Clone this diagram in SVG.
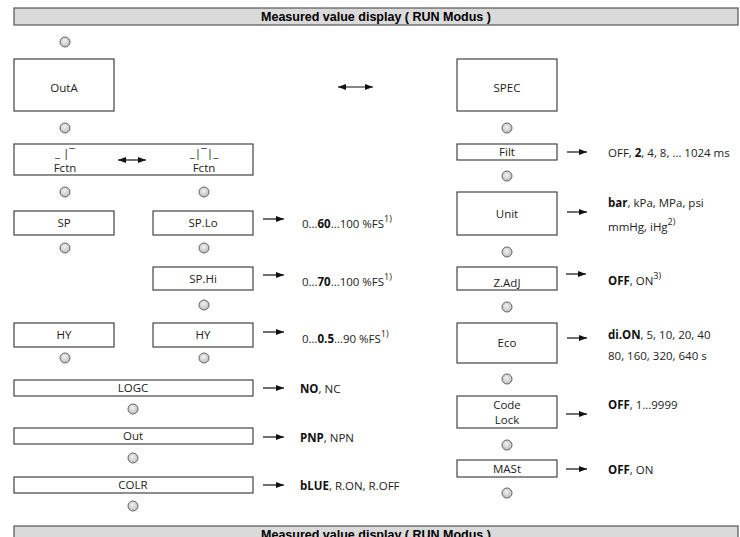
<svg xmlns="http://www.w3.org/2000/svg" width="740" height="537" viewBox="0 0 740 537">
<defs>
<marker id="ah" markerWidth="8" markerHeight="6" refX="8" refY="3" orient="auto" markerUnits="userSpaceOnUse">
<path d="M0,0 L8,3 L0,6 Z" fill="#111"/>
</marker>
<marker id="as" markerWidth="8" markerHeight="6" refX="0" refY="3" orient="auto" markerUnits="userSpaceOnUse">
<path d="M8,0 L0,3 L8,6 Z" fill="#111"/>
</marker>
<radialGradient id="dot" cx="0.45" cy="0.4" r="0.6">
<stop offset="0" stop-color="#f2f2f2"/>
<stop offset="1" stop-color="#bdbdbd"/>
</radialGradient>
</defs>
<style>
.bar{fill:#dadada;stroke:#555;stroke-width:1.2}
.title{font-family:"Liberation Sans",Arial,sans-serif;font-weight:bold;font-size:12.5px;fill:#000;text-anchor:middle}
.box{fill:#fff;stroke:#444;stroke-width:1.2}
.lbl{font-family:"Open Sans","Noto Sans",sans-serif;font-size:11.5px;fill:#222;text-anchor:middle}
.val{font-family:"Open Sans","Noto Sans",sans-serif;font-size:11.5px;fill:#222}
.b{font-weight:bold;fill:#111}
.sup{font-size:9px}
.dot{fill:url(#dot);stroke:#666;stroke-width:1}
.arr{stroke:#111;stroke-width:1.2;fill:none;marker-end:url(#ah)}
.darr{stroke:#111;stroke-width:1.2;fill:none;marker-end:url(#ah);marker-start:url(#as)}
</style>

<g id="header">
<rect class="bar" x="14" y="8" width="724" height="17"/>
<text class="title" x="376" y="21">Measured value display ( RUN Modus )</text>
</g>
<g id="footer">
<rect class="bar" x="14" y="526" width="724" height="20"/>
<text class="title" x="376" y="539">Measured value display ( RUN Modus )</text>
</g>

<g id="dots">
<circle class="dot" cx="65" cy="42" r="5"/>
<circle class="dot" cx="65" cy="128" r="5"/>
<circle class="dot" cx="507" cy="128" r="5"/>
<circle class="dot" cx="507" cy="176" r="5"/>
<circle class="dot" cx="65" cy="192" r="5"/>
<circle class="dot" cx="204" cy="192" r="5"/>
<circle class="dot" cx="65" cy="248" r="5"/>
<circle class="dot" cx="204" cy="248" r="5"/>
<circle class="dot" cx="204" cy="305" r="5"/>
<circle class="dot" cx="65" cy="358" r="5"/>
<circle class="dot" cx="204" cy="358" r="5"/>
<circle class="dot" cx="133" cy="409" r="5"/>
<circle class="dot" cx="133" cy="458" r="5"/>
<circle class="dot" cx="133" cy="506" r="5"/>
<circle class="dot" cx="507" cy="252" r="5"/>
<circle class="dot" cx="507" cy="307" r="5"/>
<circle class="dot" cx="507" cy="379" r="5"/>
<circle class="dot" cx="507" cy="445" r="5"/>
<circle class="dot" cx="507" cy="493" r="5"/>
</g>

<g id="OutA"><rect class="box" x="14" y="59" width="100" height="52"/><text class="lbl" x="64" y="92">OutA</text></g>
<g id="SPEC"><rect class="box" x="457" y="59" width="100" height="52"/><text class="lbl" x="507" y="92">SPEC</text></g>
<g id="Fctn"><rect class="box" x="14" y="144" width="239" height="31"/>
<text class="lbl" x="65" y="157">_ |¯</text><text class="lbl" x="65" y="172">Fctn</text>
<text class="lbl" x="204" y="157">_|¯|_</text><text class="lbl" x="204" y="172">Fctn</text></g>
<g id="SP"><rect class="box" x="14" y="211" width="100" height="24"/><text class="lbl" x="64" y="227">SP</text></g>
<g id="SPLo"><rect class="box" x="153" y="211" width="100" height="24"/><text class="lbl" x="203" y="227">SP.Lo</text></g>
<g id="SPHi"><rect class="box" x="153" y="267" width="100" height="23"/><text class="lbl" x="203" y="283">SP.Hi</text></g>
<g id="HY1"><rect class="box" x="14" y="323" width="100" height="24"/><text class="lbl" x="64" y="339">HY</text></g>
<g id="HY2"><rect class="box" x="153" y="323" width="100" height="24"/><text class="lbl" x="203" y="339">HY</text></g>
<g id="LOGC"><rect class="box" x="14" y="380" width="239" height="16"/><text class="lbl" x="133" y="392">LOGC</text></g>
<g id="Out"><rect class="box" x="14" y="428" width="239" height="16"/><text class="lbl" x="133" y="440">Out</text></g>
<g id="COLR"><rect class="box" x="14" y="477" width="239" height="16"/><text class="lbl" x="133" y="489">COLR</text></g>
<g id="Filt"><rect class="box" x="457" y="144" width="100" height="16"/><text class="lbl" x="507" y="156">Filt</text></g>
<g id="Unit"><rect class="box" x="457" y="192" width="100" height="43"/><text class="lbl" x="507" y="218">Unit</text></g>
<g id="ZAdJ"><rect class="box" x="457" y="267" width="100" height="23"/><text class="lbl" x="507" y="287">Z.AdJ</text></g>
<g id="Eco"><rect class="box" x="457" y="323" width="100" height="40"/><text class="lbl" x="507" y="347">Eco</text></g>
<g id="CodeLock"><rect class="box" x="457" y="396" width="100" height="32"/><text class="lbl" x="507" y="409">Code</text><text class="lbl" x="507" y="424">Lock</text></g>
<g id="MASt"><rect class="box" x="457" y="460" width="100" height="17"/><text class="lbl" x="507" y="473">MASt</text></g>

<g id="connectors">
<line class="darr" x1="338" y1="87" x2="373" y2="87"/>
<line class="darr" x1="118" y1="160" x2="146" y2="160"/>
<line class="arr" x1="263" y1="219" x2="284" y2="219"/>
<line class="arr" x1="263" y1="275" x2="284" y2="275"/>
<line class="arr" x1="263" y1="332" x2="284" y2="332"/>
<line class="arr" x1="263" y1="388" x2="284" y2="388"/>
<line class="arr" x1="263" y1="437" x2="284" y2="437"/>
<line class="arr" x1="263" y1="485" x2="284" y2="485"/>
<line class="arr" x1="567" y1="152" x2="587" y2="152"/>
<line class="arr" x1="567" y1="212" x2="587" y2="212"/>
<line class="arr" x1="566" y1="274" x2="586" y2="274"/>
<line class="arr" x1="567" y1="338" x2="587" y2="338"/>
<line class="arr" x1="566" y1="414" x2="587" y2="414"/>
<line class="arr" x1="566" y1="469" x2="587" y2="469"/>
</g>

<g id="values">
<text class="val" x="302" y="228">0…<tspan class="b">60</tspan>…100 %FS<tspan class="sup" dy="-6">1)</tspan></text>
<text class="val" x="302" y="286">0…<tspan class="b">70</tspan>…100 %FS<tspan class="sup" dy="-6">1)</tspan></text>
<text class="val" x="302" y="343">0…<tspan class="b">0.5</tspan>…90 %FS<tspan class="sup" dy="-6">1)</tspan></text>
<text class="val" x="300" y="393"><tspan class="b">NO</tspan>, NC</text>
<text class="val" x="300" y="442"><tspan class="b">PNP</tspan>, NPN</text>
<text class="val" x="300" y="490"><tspan class="b">bLUE</tspan>, R.ON, R.OFF</text>
<text class="val" x="608" y="157">OFF, <tspan class="b">2</tspan>, 4, 8,  … 1024 ms</text>
<text class="val" x="608" y="207"><tspan class="b">bar</tspan>, kPa, MPa, psi</text>
<text class="val" x="608" y="231">mmHg, iHg<tspan class="sup" dy="-6">2)</tspan></text>
<text class="val" x="608" y="285"><tspan class="b">OFF</tspan>, ON<tspan class="sup" dy="-6">3)</tspan></text>
<text class="val" x="608" y="339"><tspan class="b">di.ON</tspan>, 5, 10, 20, 40</text>
<text class="val" x="608" y="360">80, 160, 320, 640 s</text>
<text class="val" x="608" y="409"><tspan class="b">OFF</tspan>, 1…9999</text>
<text class="val" x="608" y="474"><tspan class="b">OFF</tspan>, ON</text>
</g>
</svg>
